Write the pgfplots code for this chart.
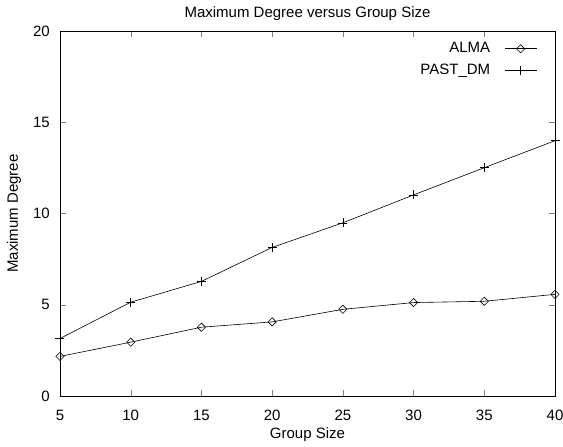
\documentclass[border=0pt]{standalone}
\usepackage{fontspec}
\setmainfont{Liberation Sans}
\usepackage{pgfplots}
\pgfplotsset{compat=1.18}
\usetikzlibrary{calc}
\begin{document}
\fontsize{15}{17}\selectfont
\begin{tikzpicture}
\begin{axis}[
  scale only axis,
  width=495pt, height=365pt,
  xmin=5, xmax=40, ymin=0, ymax=20,
  xtick={5,10,...,40}, ytick={0,5,...,20},
  tick align=inside,
  major tick length=6pt,
  /pgf/number format/assume math mode=true,
  ticklabel style={font=\fontsize{15}{17}\selectfont},
  xticklabel style={anchor=base, yshift=-24pt},
  yticklabel style={anchor=east, xshift=-5pt},
  title={Maximum Degree versus Group Size},
  title style={font=\fontsize{15}{17}\selectfont, at={(axis description cs:0.5,1)}, anchor=base, yshift=7pt},
  xlabel={Group Size},
  ylabel={Maximum Degree},
  label style={font=\fontsize{15}{17}\selectfont},
  xlabel style={at={(axis description cs:0.5,0)}, anchor=base, yshift=-42pt},
  ylabel style={at={(axis description cs:-0.093,0.5)}, anchor=center},
  axis line style={line width=0.8pt},
  legend plot pos=right,
  legend cell align=right,
  legend style={draw=none, fill=none, at={(axis description cs:0.97,0.98)}, anchor=north east,
    row sep=5pt, column sep=12pt, font=\fontsize{15}{17}\selectfont},
  legend image code/.code={
    \draw (0cm,0cm) -- (1.13cm,0cm);
    \draw plot coordinates {(0.565cm,0cm)};
  },
]
\addplot[black, line width=0.6pt, mark=square, mark size=2.9pt, mark options={solid, fill=white, rotate=45}] coordinates {
  (5,2.17) (10,2.95) (15,3.77) (20,4.06) (25,4.75) (30,5.12) (35,5.19) (40,5.57)
};
\addlegendentry{ALMA}
\addplot[black, line width=0.6pt, mark=+, mark size=4.5pt] coordinates {
  (5,3.15) (10,5.14) (15,6.28) (20,8.14) (25,9.49) (30,11.02) (35,12.51) (40,13.99)
};
\addlegendentry{PAST\_DM}
\end{axis}
\pgfresetboundingbox
\path ($(current axis.south west)+(-60pt,-50pt)$) rectangle ($(current axis.north east)+(8pt,31pt)$);
\end{tikzpicture}
\end{document}
